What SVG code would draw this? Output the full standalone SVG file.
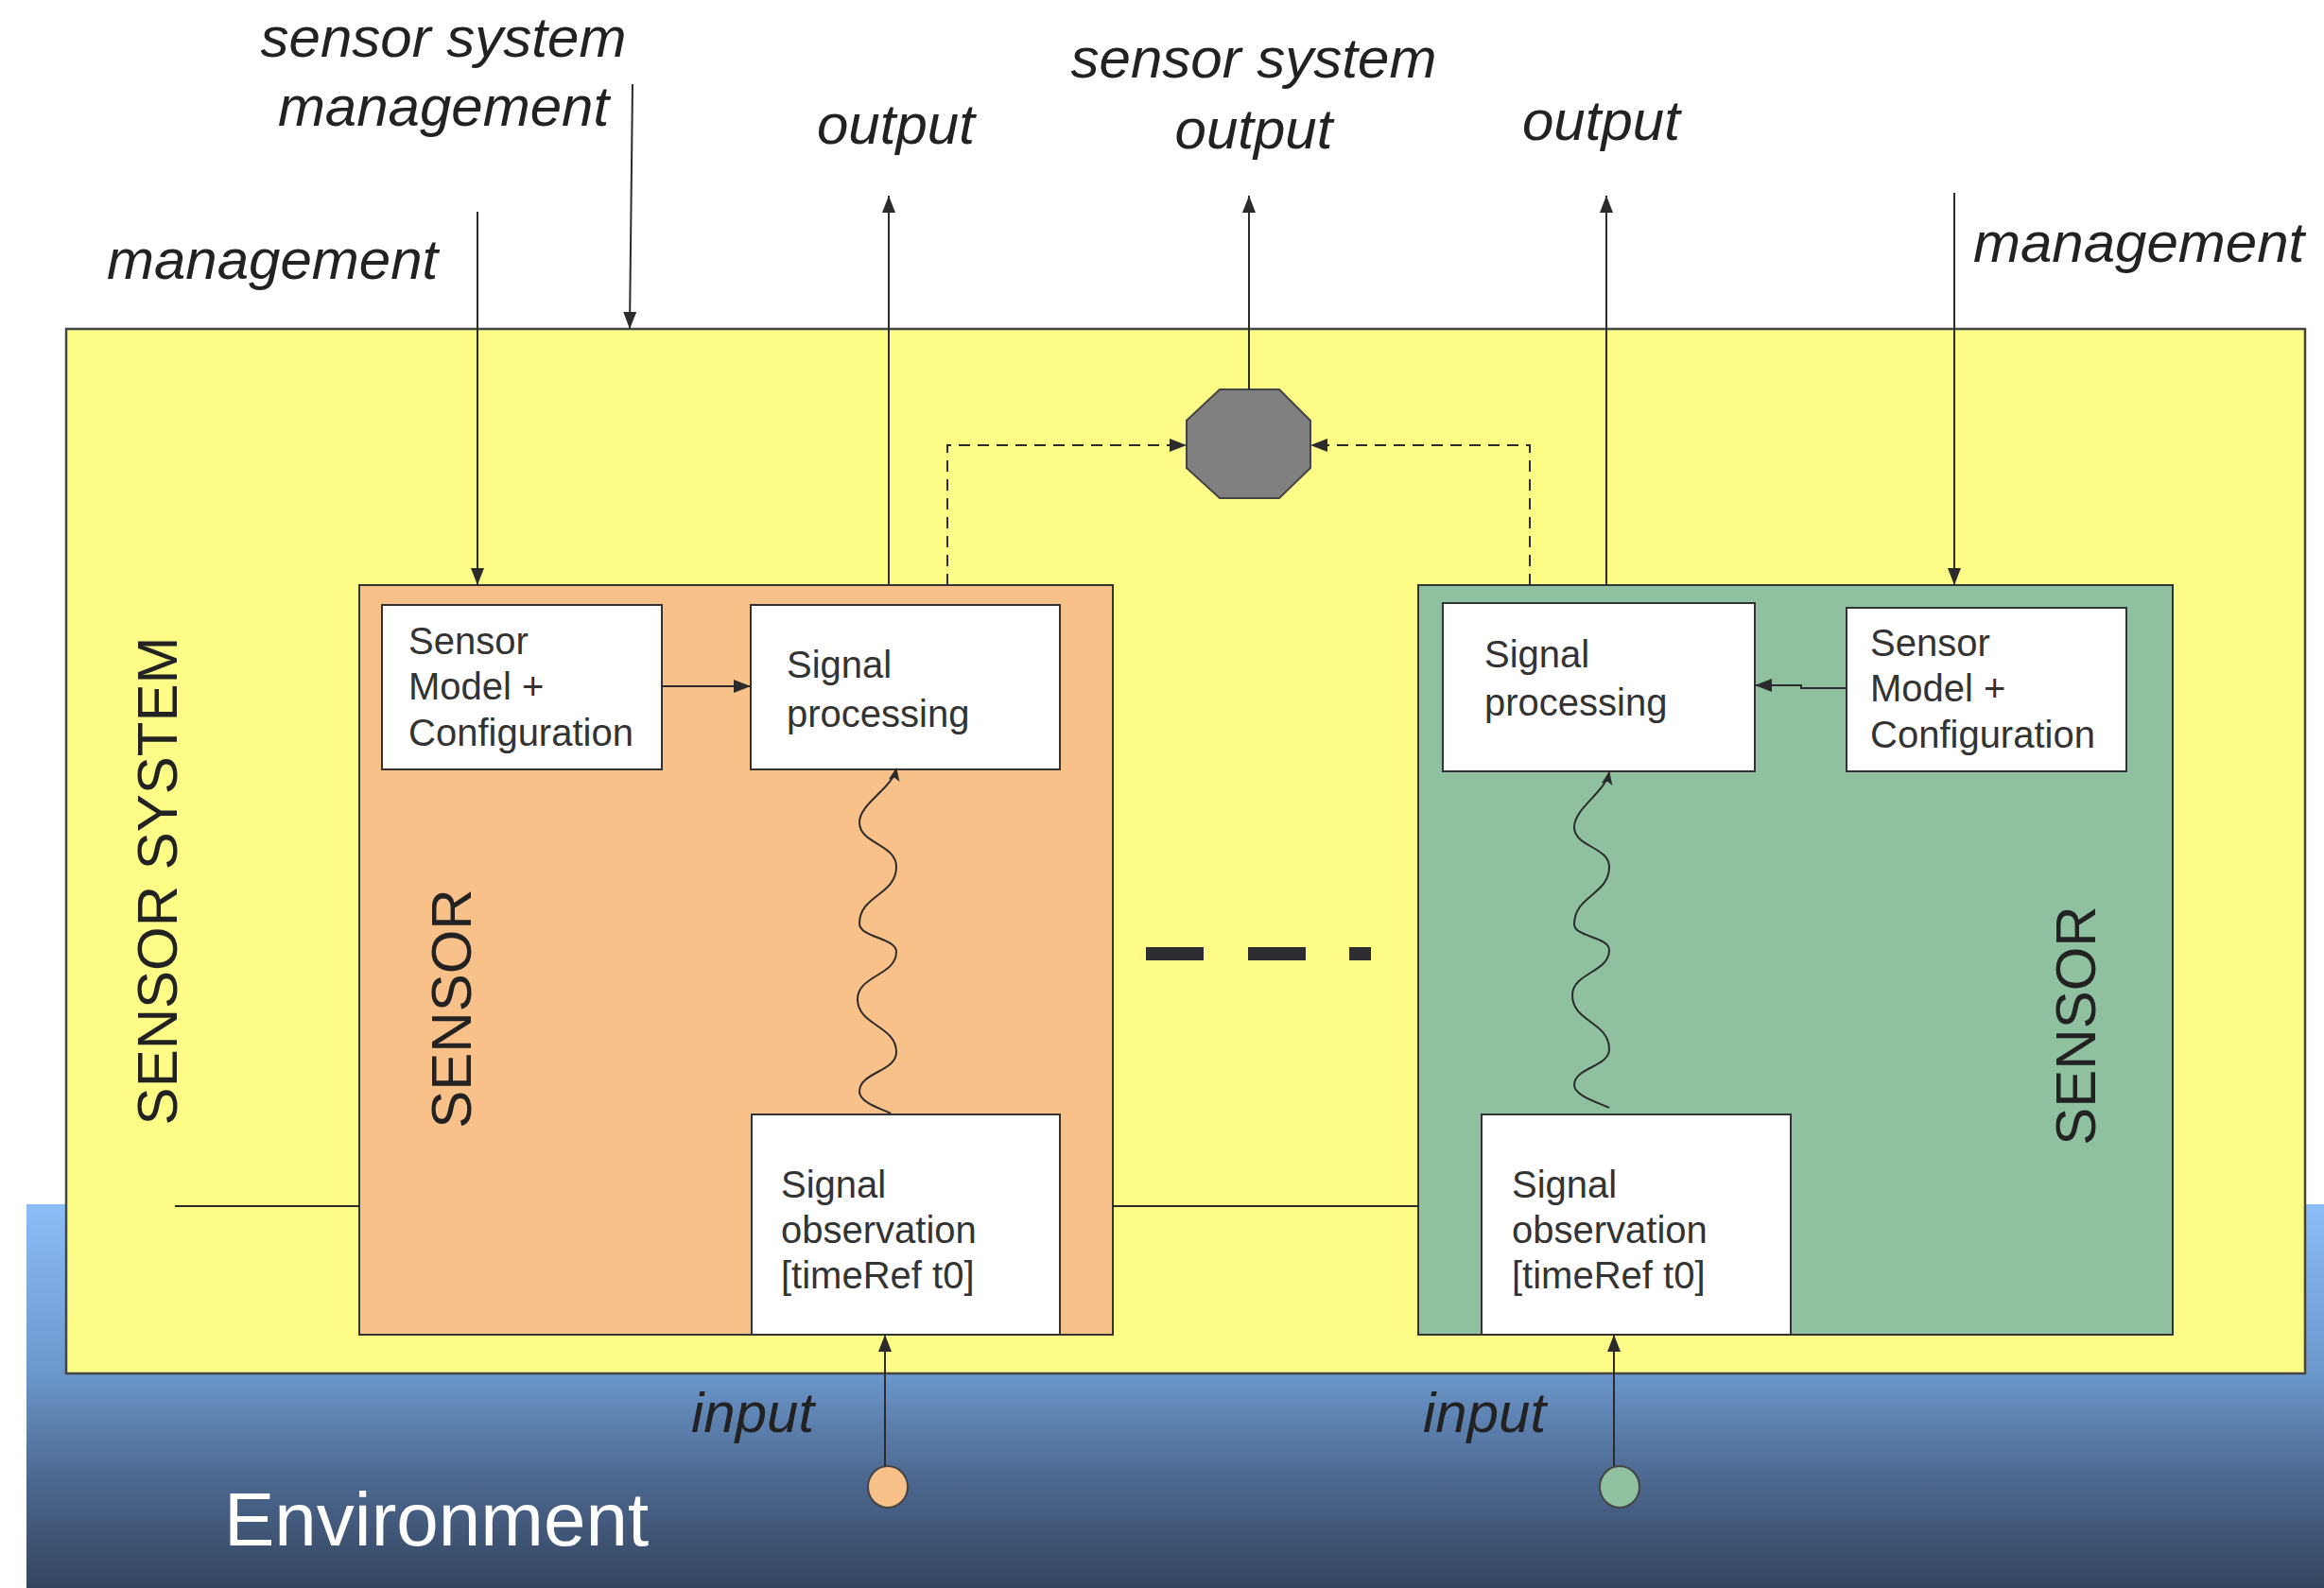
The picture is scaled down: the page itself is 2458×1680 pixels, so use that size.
<svg xmlns="http://www.w3.org/2000/svg" width="2458" height="1680" viewBox="0 0 2458 1680">
<defs>
<linearGradient id="env" x1="0" y1="0" x2="0" y2="1">
<stop offset="0" stop-color="#8cbdf8"/>
<stop offset="0.44" stop-color="#6b97cb"/>
<stop offset="0.72" stop-color="#4c678f"/>
<stop offset="1" stop-color="#33455e"/>
</linearGradient>
<marker id="arr" viewBox="0 0 18 14" markerWidth="18" markerHeight="14" refX="18" refY="7" orient="auto" markerUnits="userSpaceOnUse">
<path d="M0,0 L18,7 L0,14 z" fill="#2b2b2b"/>
</marker>
<marker id="arrS" viewBox="0 0 14 12" markerWidth="14" markerHeight="12" refX="13" refY="6" orient="auto" markerUnits="userSpaceOnUse">
<path d="M0,0 L14,6 L0,12 L3,6 z" fill="#2b2b2b"/>
</marker>
<style>
.ln{fill:none;stroke:#2b2b2b;stroke-width:2}
.dash{fill:none;stroke:#2b2b2b;stroke-width:2;stroke-dasharray:12 8}
.box{fill:#ffffff;stroke:#333333;stroke-width:2}
.lbl{font-family:"Liberation Sans",Arial,sans-serif;font-style:italic;font-size:60px;fill:#222222}
.in{font-family:"Liberation Sans",Arial,sans-serif;font-size:40px;fill:#333333}
.big{font-family:"Liberation Sans",Arial,sans-serif;font-size:60px;fill:#222222}
</style>
</defs>
<rect x="0" y="0" width="2458" height="1680" fill="#ffffff"/>
<g id="environment">
<rect x="28" y="1274" width="2430" height="406" fill="url(#env)"/>
<text x="237" y="1635" font-family="'Liberation Sans',Arial,sans-serif" font-size="80" fill="#ffffff">Environment</text>
</g>
<g id="sensor-system">
<rect x="70" y="348" width="2368" height="1105" fill="#fcfc87" stroke="#444444" stroke-width="2.5"/>
<text class="big" transform="translate(187,932) rotate(-90)" text-anchor="middle">SENSOR SYSTEM</text>
</g>
<g id="sensor-left">
<rect x="380" y="619" width="797" height="793" fill="#f8c189" stroke="#333333" stroke-width="2"/>
<text class="big" transform="translate(498,1067) rotate(-90)" text-anchor="middle">SENSOR</text>
</g>
<g id="sensor-right">
<rect x="1500" y="619" width="798" height="793" fill="#8fc1a1" stroke="#333333" stroke-width="2"/>
<text class="big" transform="translate(2216,1085) rotate(-90)" text-anchor="middle">SENSOR</text>
</g>
<g id="model-left">
<rect class="box" x="404" y="640" width="296" height="174"/>
<text class="in" x="432" y="692">Sensor</text>
<text class="in" x="432" y="740">Model +</text>
<text class="in" x="432" y="789">Configuration</text>
</g>
<g id="processing-left">
<rect class="box" x="794" y="640" width="327" height="174"/>
<text class="in" x="832" y="717">Signal</text>
<text class="in" x="832" y="769">processing</text>
</g>
<g id="observation-left">
<rect class="box" x="795" y="1179" width="326" height="233"/>
<text class="in" x="826" y="1267">Signal</text>
<text class="in" x="826" y="1315">observation</text>
<text class="in" x="826" y="1363">[timeRef t0]</text>
</g>
<g id="processing-right">
<rect class="box" x="1526" y="638" width="330" height="178"/>
<text class="in" x="1570" y="706">Signal</text>
<text class="in" x="1570" y="757">processing</text>
</g>
<g id="model-right">
<rect class="box" x="1953" y="643" width="296" height="173"/>
<text class="in" x="1978" y="694">Sensor</text>
<text class="in" x="1978" y="742">Model +</text>
<text class="in" x="1978" y="791">Configuration</text>
</g>
<g id="observation-right">
<rect class="box" x="1567" y="1179" width="327" height="233"/>
<text class="in" x="1599" y="1267">Signal</text>
<text class="in" x="1599" y="1315">observation</text>
<text class="in" x="1599" y="1363">[timeRef t0]</text>
</g>
<g id="aggregator">
<polygon points="1290,412 1353,412 1386,445 1386,495 1353,527 1290,527 1255,495 1255,445" fill="#808080" stroke="#444444" stroke-width="2"/>
</g>
<g id="input-left">
<ellipse cx="939" cy="1573" rx="21" ry="22" fill="#f8c189" stroke="#444444" stroke-width="2"/>
</g>
<g id="input-right">
<ellipse cx="1713" cy="1573" rx="21" ry="22" fill="#8fc1a1" stroke="#444444" stroke-width="2"/>
</g>
<g id="ellipsis">
<rect x="1212" y="1002" width="61" height="14" fill="#2e2e32"/>
<rect x="1320" y="1002" width="61" height="14" fill="#2e2e32"/>
<rect x="1427" y="1002" width="23" height="14" fill="#2e2e32"/>
</g>
<g id="connectors">
<path class="ln" d="M669,89 L666,348" marker-end="url(#arr)"/>
<path class="ln" d="M505,224 V619" marker-end="url(#arr)"/>
<path class="ln" d="M2067,204 V619" marker-end="url(#arr)"/>
<path class="ln" d="M940,619 V207" marker-end="url(#arr)"/>
<path class="ln" d="M1321,412 V207" marker-end="url(#arr)"/>
<path class="ln" d="M1699,619 V207" marker-end="url(#arr)"/>
<path class="dash" d="M1002,619 V471 H1255" marker-end="url(#arr)"/>
<path class="dash" d="M1618,619 V471 H1386" marker-end="url(#arr)"/>
<path class="ln" d="M700,726 H794" marker-end="url(#arr)"/>
<path class="ln" d="M1953,728 H1905 V725 H1856" marker-end="url(#arr)"/>
<path class="ln" d="M185,1276 H380"/>
<path class="ln" d="M1177,1276 H1500"/>
<path class="ln" d="M936,1551 V1412" marker-end="url(#arr)"/>
<path class="ln" d="M1707,1551 V1412" marker-end="url(#arr)"/>
<path class="ln" stroke-width="2.5" d="M942,1178 C935,1174 909,1167 909,1155 C909,1134 948,1134 948,1113 C948,1085 907,1085 907,1057 C907,1032 948,1032 948,1007 C948,992 909,992 909,977 C909,947 948,947 948,917 C948,893 909,893 909,870 C909,850 944,834 948,813" marker-end="url(#arrS)"/>
<path class="ln" stroke-width="2.5" d="M1702,1172 C1695,1168 1665,1160 1665,1148 C1665,1129 1702,1129 1702,1110 C1702,1081 1663,1081 1663,1053 C1663,1029 1702,1029 1702,1005 C1702,991 1665,991 1665,978 C1665,947 1702,947 1702,917 C1702,896 1665,896 1665,875 C1665,855 1698,838 1702,817" marker-end="url(#arrS)"/>
</g>
<g id="labels">
<text class="lbl" x="469" y="60" text-anchor="middle">sensor system</text>
<text class="lbl" x="469" y="133" text-anchor="middle">management</text>
<text class="lbl" x="113" y="295">management</text>
<text class="lbl" x="864" y="152">output</text>
<text class="lbl" x="1326" y="82" text-anchor="middle">sensor system</text>
<text class="lbl" x="1326" y="157" text-anchor="middle">output</text>
<text class="lbl" x="1610" y="148">output</text>
<text class="lbl" x="2087" y="277">management</text>
<text class="lbl" x="731" y="1515">input</text>
<text class="lbl" x="1505" y="1515">input</text>
</g>
</svg>
